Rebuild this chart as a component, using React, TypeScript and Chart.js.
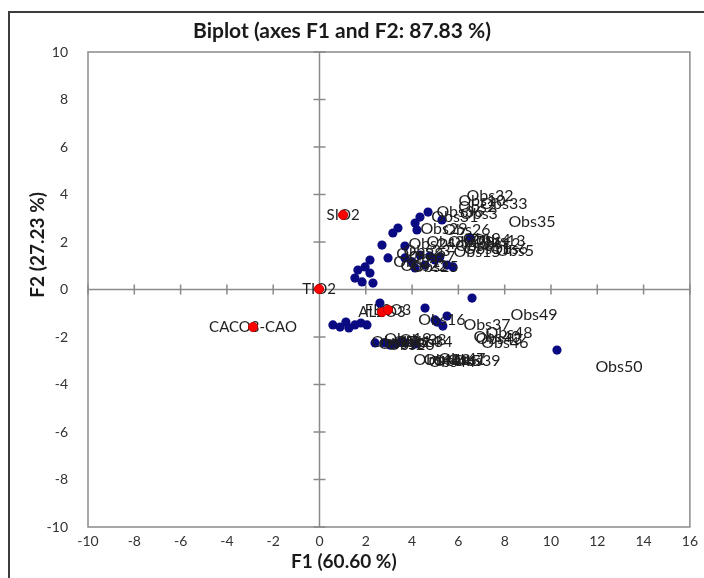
import React, { useEffect, useRef } from 'react';
import { Chart, registerables } from 'chart.js';

Chart.register(...registerables);

const TITLE = 'Biplot (axes F1 and F2: 87.83 %)';
const X_TITLE = 'F1 (60.60 %)';
const Y_TITLE = 'F2 (27.23 %)';
const X_MIN = -10;
const X_MAX = 16;
const Y_MIN = -10;
const Y_MAX = 10;
const TICK_STEP = 2;

const obsNames = [
  'Obs1', 'Obs2', 'Obs3', 'Obs4', 'Obs5', 'Obs6', 'Obs7', 'Obs8', 'Obs9', 'Obs10',
  'Obs11', 'Obs12', 'Obs13', 'Obs14', 'Obs15', 'Obs16', 'Obs17', 'Obs18', 'Obs19', 'Obs20',
  'Obs21', 'Obs22', 'Obs23', 'Obs24', 'Obs25', 'Obs26', 'Obs27', 'Obs28', 'Obs29', 'Obs30',
  'Obs31', 'Obs32', 'Obs33', 'Obs34', 'Obs35', 'Obs36', 'Obs37', 'Obs38', 'Obs39', 'Obs40',
  'Obs41', 'Obs42', 'Obs43', 'Obs44', 'Obs45', 'Obs46', 'Obs47', 'Obs48', 'Obs49', 'Obs50',
];
const obsF1 = [
  3.69, 4.13, 4.21, 4.77, 5.77, 5.51, 3.69, 4.0, 4.34, 4.34,
  4.56, 4.99, 5.2, 1.53, 4.13, 2.61, 0.58, 0.89, 1.14, 1.27,
  1.53, 1.84, 1.97, 2.18, 2.31, 3.69, 2.18, 1.66, 2.7, 2.96,
  3.17, 4.69, 5.29, 2.05, 6.5, 3.39, 4.56, 1.79, 4.13, 4.99,
  2.4, 2.83, 5.08, 3.05, 3.26, 5.33, 3.48, 5.51, 6.59, 10.26,
];
const obsF2 = [
  -2.25, 2.8, 2.51, 1.41, 0.95, 1.03, 1.33, 1.16, 1.45, 3.05,
  1.03, 1.24, 1.37, -1.49, 0.91, -0.57, -1.49, -1.58, -1.37, -1.62,
  0.48, 0.32, 0.95, 1.24, 0.27, 1.83, 0.69, 0.82, 1.87, 1.33,
  2.38, 3.26, 2.93, -1.49, 2.17, 2.59, -0.78, -1.41, -2.29, -1.28,
  -2.25, -2.25, -1.37, -2.34, -2.29, -1.54, -2.21, -1.12, -0.36, -2.55,
];

const varNames = ['SIO2', 'TIO2', 'CACO3-CAO', 'AL2O3', 'FE2O3'];
const varF1 = [1.02, -0.02, -2.87, 2.7, 2.96];
const varF2 = [3.14, 0.02, -1.58, -0.95, -0.86];

const FONT = 'Lato, "Open Sans", sans-serif';

const decorPlugin = {
  id: 'decor',
  beforeDraw(chart: any) {
    const ctx = chart.ctx;
    ctx.save();
    ctx.fillStyle = '#ffffff';
    ctx.fillRect(0, 0, chart.width, chart.height);
    ctx.strokeStyle = '#3c3c3c';
    ctx.lineWidth = 2;
    ctx.beginPath();
    ctx.moveTo(9, chart.height);
    ctx.lineTo(9, 12);
    ctx.lineTo(chart.width, 12);
    ctx.stroke();
    ctx.restore();
  },
  beforeDatasetsDraw(chart: any) {
    const ctx = chart.ctx;
    const { left, right, top, bottom } = chart.chartArea;
    const xs = chart.scales.x;
    const ys = chart.scales.y;
    ctx.save();
    ctx.strokeStyle = '#8a8a8a';
    ctx.lineWidth = 1.5;
    ctx.strokeRect(left, top, right - left, bottom - top);
    const x0 = xs.getPixelForValue(0);
    const y0 = ys.getPixelForValue(0);
    ctx.beginPath();
    ctx.moveTo(x0, top);
    ctx.lineTo(x0, bottom);
    ctx.moveTo(left, y0);
    ctx.lineTo(right, y0);
    xs.ticks.forEach((t: any) => {
      const px = xs.getPixelForValue(t.value);
      ctx.moveTo(px, y0 - 5);
      ctx.lineTo(px, y0 + 5);
    });
    ys.ticks.forEach((t: any) => {
      const py = ys.getPixelForValue(t.value);
      ctx.moveTo(x0 - 6, py);
      ctx.lineTo(x0 + 6, py);
    });
    ctx.stroke();

    ctx.font = `15px ${FONT}`;
    ctx.fillStyle = '#1e1e1e';
    ctx.textAlign = 'center';
    ctx.textBaseline = 'middle';
    varNames.forEach((n, i) => {
      ctx.fillText(n, xs.getPixelForValue(varF1[i]), ys.getPixelForValue(varF2[i]));
    });
    ctx.restore();
  },
  afterDatasetsDraw(chart: any) {
    const ctx = chart.ctx;
    const xs = chart.scales.x;
    const ys = chart.scales.y;
    ctx.save();
    ctx.font = `16px ${FONT}`;
    ctx.fillStyle = '#1e1e1e';
    ctx.textAlign = 'center';
    ctx.textBaseline = 'middle';
    obsNames.forEach((n, i) => {
      const px = xs.getPixelForValue(obsF1[i]);
      const py = ys.getPixelForValue(obsF2[i]);
      ctx.fillText(n, px + 62, py + (obsF2[i] >= 0 ? -16 : 17));
    });
    ctx.restore();
  },
  afterDraw(chart: any) {
    const ctx = chart.ctx;
    const { left, right, top, bottom } = chart.chartArea;
    ctx.save();
    ctx.fillStyle = '#1a1a1a';
    ctx.textAlign = 'center';
    ctx.textBaseline = 'middle';
    ctx.font = `bold 21px ${FONT}`;
    ctx.fillText(TITLE, 342, 31);
    ctx.font = `bold 19px ${FONT}`;
    ctx.fillText(X_TITLE, left + (right - left) * 0.425, 562);
    ctx.translate(38, top + (bottom - top) * 0.406);
    ctx.rotate(-Math.PI / 2);
    ctx.fillText(Y_TITLE, 0, 0);
    ctx.restore();
  },
};

export default function App() {
  const ref = useRef<HTMLCanvasElement | null>(null);
  useEffect(() => {
    if (!ref.current) return;
    const chart = new Chart(ref.current, {
      type: 'scatter',
      data: {
        datasets: [
          {
            label: 'Observations',
            data: obsF1.map((x, i) => ({ x, y: obsF2[i] })),
            backgroundColor: '#0a0a82',
            borderColor: '#0a0a82',
            borderWidth: 0,
            pointRadius: 4.6,
          },
          {
            label: 'Variables',
            data: varF1.map((x, i) => ({ x, y: varF2[i] })),
            backgroundColor: '#ff0000',
            borderColor: '#c00000',
            borderWidth: 1,
            pointRadius: 4.6,
          },
        ],
      },
      options: {
        animation: false,
        responsive: false,
        devicePixelRatio: 1,
        layout: { padding: { top: 52, left: 8, right: 14, bottom: 0 } },
        plugins: {
          legend: { display: false },
          tooltip: { enabled: false },
          title: { display: false },
        },
        scales: {
          x: {
            type: 'linear',
            min: X_MIN,
            max: X_MAX,
            grid: { display: false, drawTicks: false },
            border: { display: false },
            ticks: {
              stepSize: TICK_STEP,
              padding: 6,
              color: '#333333',
              font: { family: FONT, size: 14 },
              maxRotation: 0,
            },
            afterFit: (s: any) => {
              s.height = 51;
            },
          },
          y: {
            type: 'linear',
            min: Y_MIN,
            max: Y_MAX,
            grid: { display: false, drawTicks: false },
            border: { display: false },
            ticks: {
              stepSize: TICK_STEP,
              padding: 20,
              color: '#333333',
              font: { family: FONT, size: 14 },
            },
            afterFit: (s: any) => {
              s.width = 80;
            },
          },
        },
      },
      plugins: [decorPlugin],
    });
    return () => chart.destroy();
  }, []);
  return (
    <div style={{ position: 'fixed', left: 0, top: 0, width: 704, height: 578, background: '#fff' }}>
      <canvas ref={ref} width={704} height={578} style={{ display: 'block' }} />
    </div>
  );
}
